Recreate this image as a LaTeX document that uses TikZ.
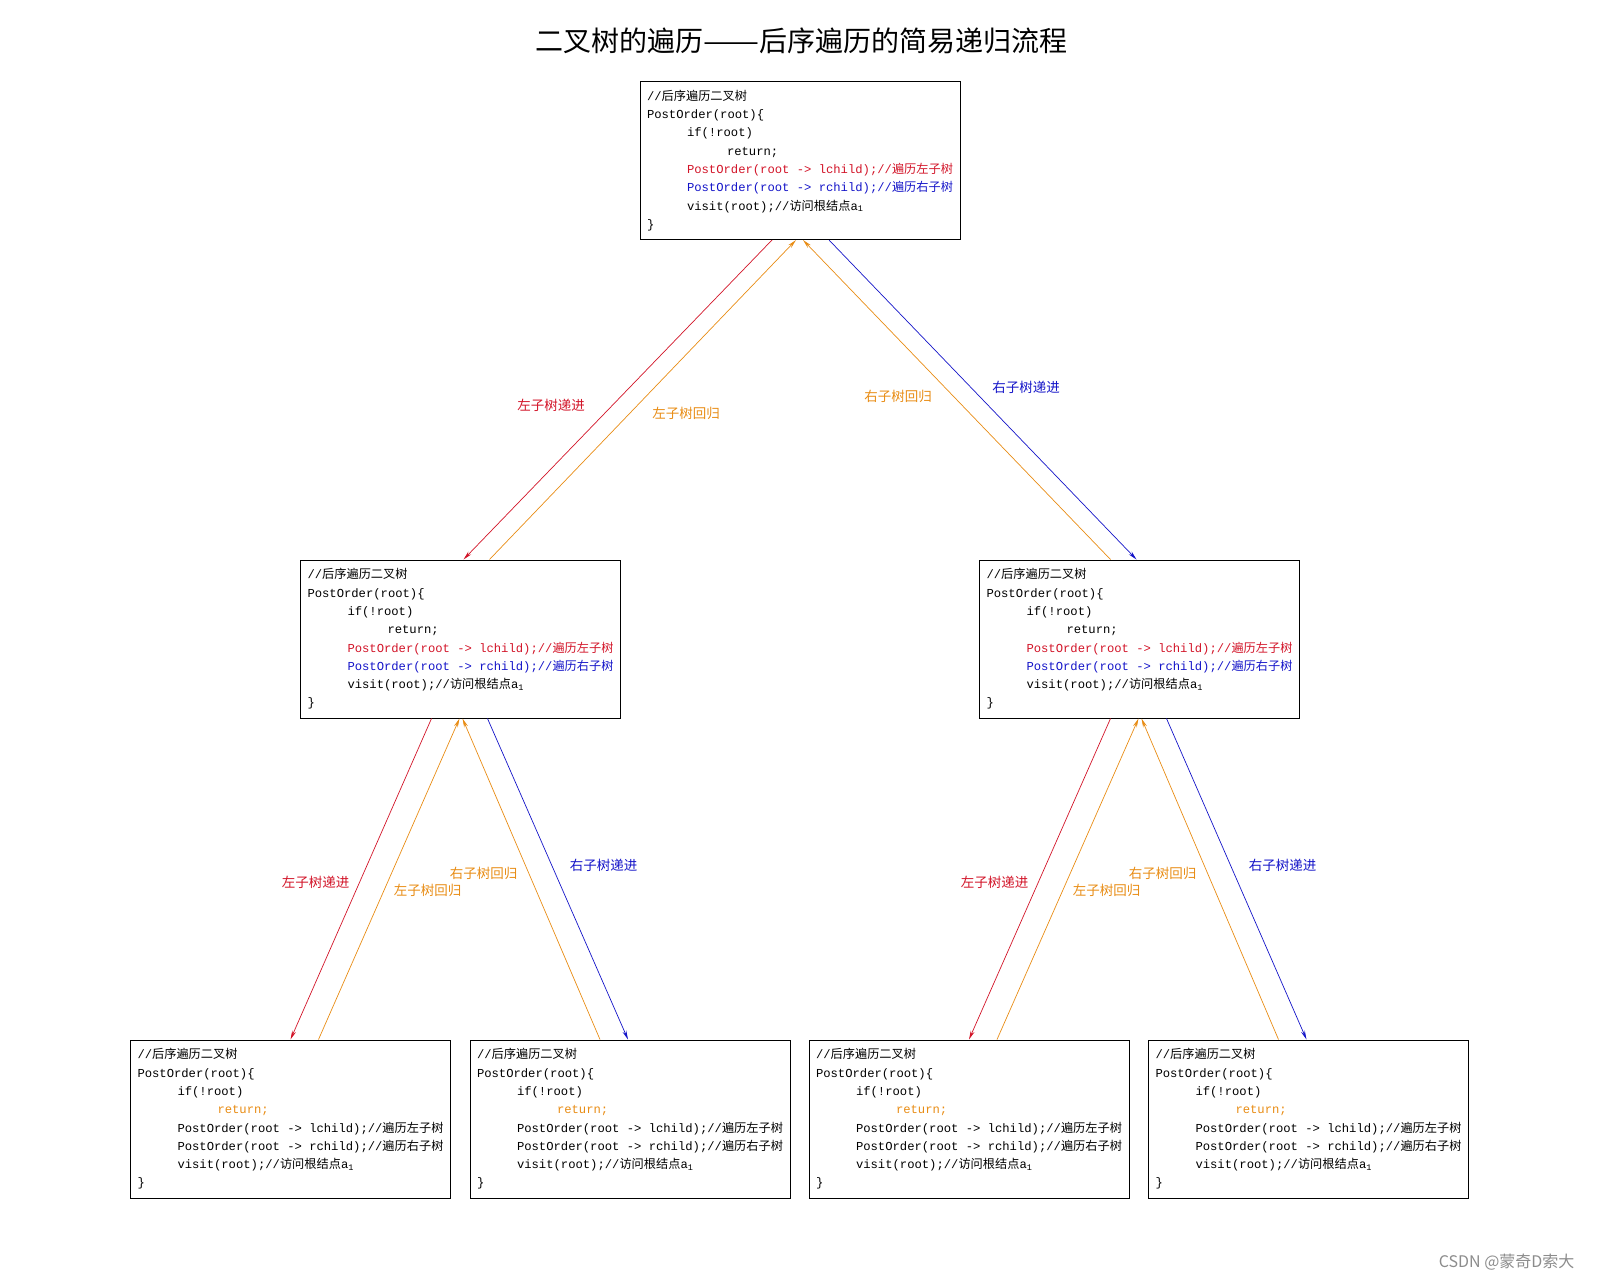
\documentclass[tikz,border=0pt]{standalone}
\usepackage{fontspec}
\setmainfont{Liberation Serif}
\setmonofont{Liberation Mono}
\newfontfamily\cjk{Noto Sans CJK SC}
\usetikzlibrary{arrows.meta}
\definecolor{walkred}{RGB}{210,20,40}
\definecolor{walkblue}{RGB}{20,20,200}
\definecolor{walkorange}{RGB}{232,140,20}
\newcommand{\zh}[1]{{\cjk #1}}
\newcommand{\postcode}[3]{//\zh{后序遍历二叉树}\\
    PostOrder(root)\{\\
    \hspace*{40pt}if(!root)\\
    \hspace*{80pt}{\color{#1}return;}\\
    \hspace*{40pt}{\color{#2}PostOrder(root -> lchild);//\zh{遍历左子树}}\\
    \hspace*{40pt}{\color{#3}PostOrder(root -> rchild);//\zh{遍历右子树}}\\
    \hspace*{40pt}visit(root);//\zh{访问根结点}a\textsubscript{1}\\
    \}}
\tikzset{
    codebox/.style={draw,line width=1pt,minimum width=319pt,minimum height=158pt,inner xsep=7pt,
        align=left,font=\ttfamily\fontsize{12.2}{18.3}\selectfont},
    tag/.style={font=\cjk\fontsize{13.5}{16}\selectfont,inner sep=1pt},
    walk/.style={line width=0.7pt,-{Stealth[length=9pt,width=4pt]}}
}

\begin{document}
\begin{tikzpicture}[x=1pt,y=-1pt]
    \useasboundingbox (0,0) rectangle (1600,1280);
    \node[font=\cjk\fontsize{28}{32}\selectfont] (title) at (801,41)
        {二叉树的遍历\resizebox{2em}{\height}{——}后序遍历的简易递归流程};

    \node[codebox] (root) at (800,160.5) {\postcode{black}{walkred}{walkblue}};
    \node[codebox] (lt) at (460.5,639) {\postcode{black}{walkred}{walkblue}};
    \node[codebox] (rt) at (1139.5,639) {\postcode{black}{walkred}{walkblue}};
    \node[codebox] (ll) at (290.5,1119) {\postcode{walkorange}{black}{black}};
    \node[codebox] (lr) at (630,1119) {\postcode{walkorange}{black}{black}};
    \node[codebox] (rl) at (969,1119) {\postcode{walkorange}{black}{black}};
    \node[codebox] (rr) at (1308.5,1119) {\postcode{walkorange}{black}{black}};

    \draw[walk,walkred] ([xshift=-28pt]root.south) -- ([xshift=3pt]lt.north);
    \draw[walk,walkorange] ([xshift=29pt]lt.north) -- ([xshift=-4pt]root.south);
    \draw[walk,walkorange] ([xshift=-29pt]rt.north) -- ([xshift=3pt]root.south);
    \draw[walk,walkblue] ([xshift=29pt]root.south) -- ([xshift=-3pt]rt.north);
    \node[tag,text=walkred] (root-ld) at (551,405) {左子树递进};
    \node[tag,text=walkorange] (root-lu) at (686,413) {左子树回归};
    \node[tag,text=walkorange] (root-ru) at (898,396) {右子树回归};
    \node[tag,text=walkblue] (root-rd) at (1026,387) {右子树递进};

    \foreach \p/\a/\b in {lt/ll/lr,rt/rl/rr}{
        \draw[walk,walkred] ([xshift=-29pt]\p.south) -- (\a.north);
        \draw[walk,walkorange] ([xshift=28pt]\a.north) -- ([xshift=-1pt]\p.south);
        \draw[walk,walkorange] ([xshift=-30pt]\b.north) -- ([xshift=2pt]\p.south);
        \draw[walk,walkblue] ([xshift=27pt]\p.south) -- ([xshift=-2pt]\b.north);
        \node[tag,text=walkred] (\p-ld) at ([shift={(-145,164)}]\p.south) {左子树递进};
        \node[tag,text=walkorange] (\p-lu) at ([shift={(-33,172)}]\p.south) {左子树回归};
        \node[tag,text=walkorange] (\p-ru) at ([shift={(23,155)}]\p.south) {右子树回归};
        \node[tag,text=walkblue] (\p-rd) at ([shift={(143,147)}]\p.south) {右子树递进};
    }

    \node[font=\cjk\fontsize{16}{18}\selectfont,text=black!45,anchor=east] (mark) at (1578,1262) {CSDN @蒙奇D索大};
\end{tikzpicture}
\end{document}
